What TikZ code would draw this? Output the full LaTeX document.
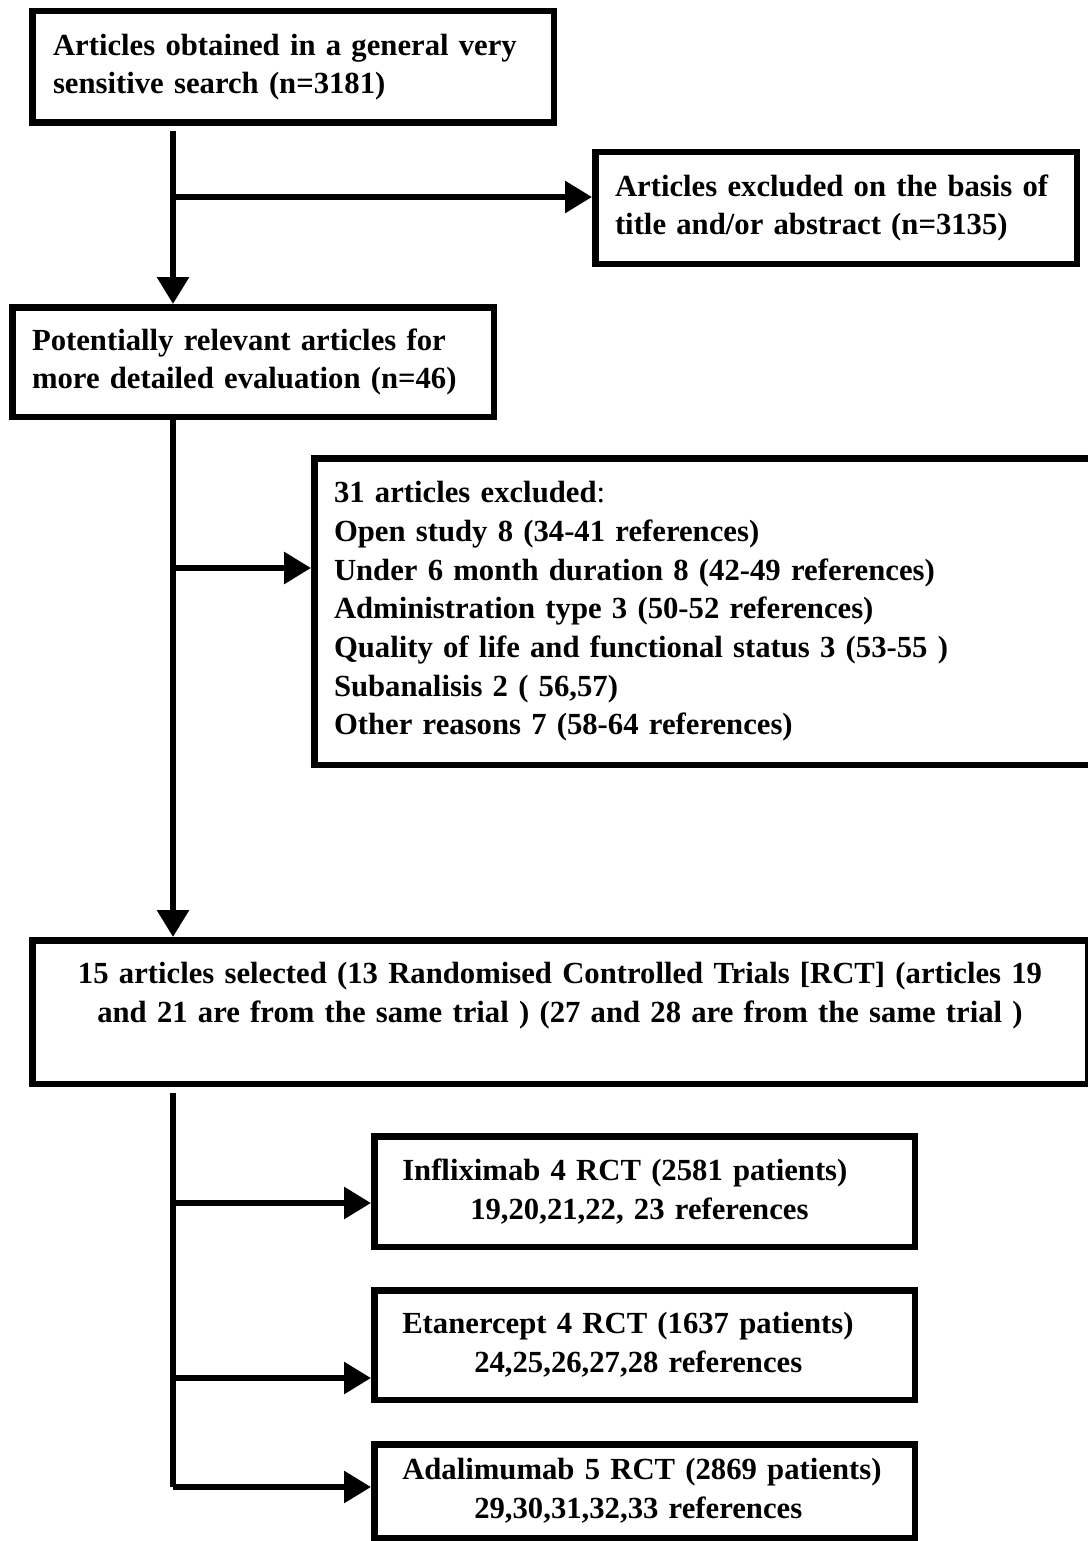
\documentclass[tikz,border=0pt]{standalone}
\usepackage{fontspec}
\setmainfont{Liberation Serif}
\usetikzlibrary{arrows.meta}

\begin{document}
\begin{tikzpicture}[x=1pt,y=-1pt,
  boxdecorate/.style={draw,line width=6.5pt,align=left,inner ysep=0pt,
    font=\bfseries\fontsize{30.7}{38.7}\selectfont},
  arrowdecorate/.style={-{Triangle[length=27pt,width=31pt]},line width=6pt},
  linedecorate/.style={-,line width=6pt}]
\path[use as bounding box,fill=white] (0,0) rectangle (1087,1541);
% boxes
\node (search) at (293,67) [boxdecorate,minimum width=521.5pt,minimum height=111.5pt,
  text width=480pt,inner xsep=20.75pt]
  {Articles obtained in a general very\\sensitive search (n=3181)};
\node (excl) at (836,208) [boxdecorate,minimum width=481.5pt,minimum height=111.5pt,
  text width=442pt,inner xsep=19.75pt]
  {Articles excluded on the basis of\\title and/or abstract (n=3135)};
\node (potential) at (253,362) [boxdecorate,minimum width=481.5pt,minimum height=109.5pt,
  text width=442pt,inner xsep=19.75pt]
  {Potentially relevant articles for\\more detailed evaluation (n=46)};
\node (excl31) at (703,611.5) [boxdecorate,minimum width=777.5pt,minimum height=306.5pt,
  text width=738pt,inner xsep=19.75pt]
  {31 articles excluded{\mdseries:}\\
   Open study 8 (34-41 references)\\
   Under 6 month duration 8 (42-49 references)\\
   Administration type 3 (50-52 references)\\
   Quality of life and functional status 3 (53-55 )\\
   Subanalisis 2 ( 56,57)\\
   Other reasons 7 (58-64 references)};
\node (selected) at (560,1012) [boxdecorate,align=center,minimum width=1055.5pt,
  minimum height=143.5pt,text width=1000pt,inner xsep=27.75pt]
  {15 articles selected (13 Randomised Controlled Trials [RCT] (articles 19\\
   and 21 are from the same trial ) (27 and 28 are from the same trial )\\ \mbox{}};
\node (inflix) at (644.5,1191.5) [boxdecorate,minimum width=540.5pt,minimum height=110.5pt,
  text width=484.5pt,inner xsep=28pt]
  {Infliximab 4 RCT (2581 patients)\\\hspace*{68pt}19,20,21,22, 23 references};
\node (etaner) at (644.5,1345) [boxdecorate,minimum width=540.5pt,minimum height=109.5pt,
  text width=484.5pt,inner xsep=28pt]
  {Etanercept 4 RCT (1637 patients)\\\hspace*{72pt}24,25,26,27,28 references};
\node (adalim) at (644.5,1491) [boxdecorate,minimum width=540.5pt,minimum height=93.5pt,
  text width=484.5pt,inner xsep=28pt]
  {Adalimumab 5 RCT (2869 patients)\\\hspace*{72pt}29,30,31,32,33 references};
% branch points
\coordinate (top1) at (173,131);
\coordinate (fork1) at (173,197);
\coordinate (fork2) at (173,568);
\coordinate (top3) at (173,1093);
\coordinate (fork3) at (173,1203);
\coordinate (fork4) at (173,1378);
\coordinate (fork5) at (173,1487);
% arrows
\path
(top1) edge[arrowdecorate] (top1 |- potential.north)
(fork1) edge[arrowdecorate] (fork1 -| excl.west)
(top1 |- potential.south) edge[arrowdecorate] (top1 |- selected.north)
(fork2) edge[arrowdecorate] (fork2 -| excl31.west)
(top3) edge[linedecorate] (fork5)
(fork3) edge[arrowdecorate] (fork3 -| inflix.west)
(fork4) edge[arrowdecorate] (fork4 -| etaner.west)
(fork5) edge[arrowdecorate] (fork5 -| adalim.west);
\end{tikzpicture}
\end{document}
